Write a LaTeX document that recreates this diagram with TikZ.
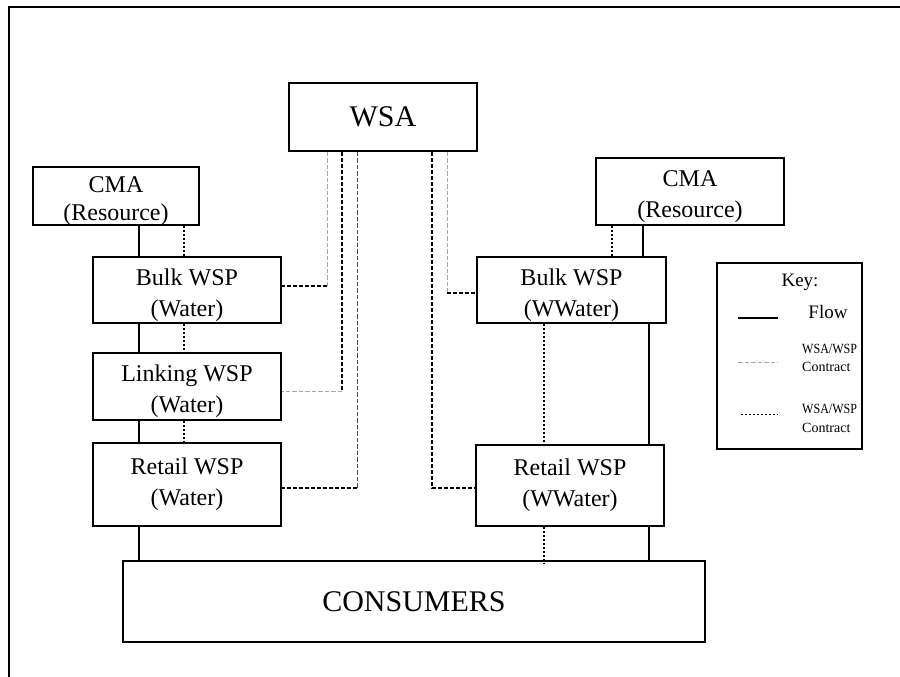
\documentclass[tikz,border=0pt]{standalone}
\usepackage{fontspec}
\setmainfont{Liberation Serif}
\tikzset{
  box/.style={draw, line width=1.3pt, align=center, inner sep=0pt, font=\fontsize{24}{31}\selectfont},
  flow/.style={line width=1.2pt},
  link/.style={line width=1.3pt, dash pattern=on 2pt off 2pt},
  bcon/.style={line width=1.5pt, dash pattern=on 4pt off 2pt},
  gcon/.style={draw=black!35, line width=0.8pt, dash pattern=on 4.5pt off 2pt},
  keytext/.style={anchor=west, align=left, inner sep=0pt, font=\fontsize{14}{18.5}\selectfont},
}
\newcommand{\wsawsp}{\scalebox{0.86}[1]{WSA/WSP}}
\newcommand{\toppad}{\rule{0pt}{27pt}}
\begin{document}
\begin{tikzpicture}[x=1pt, y=-1pt, line join=miter]
	\useasboundingbox (0,0) rectangle (900,677);
	% frame
	\draw[line width=2pt] (9,700) -- (9,7.5) -- (920,7.5);
	
	% boxes
	\node[box, minimum width=188, minimum height=68, font=\fontsize{30}{36}\selectfont] (wsa) at (383,117) {WSA};
	\node[box, minimum width=166, minimum height=58, text depth=0pt, font=\fontsize{24}{28}\selectfont] (cmal) at (116,196) {\rule{0pt}{21pt}CMA\\(Resource)};
	\node[box, minimum width=188, minimum height=67] (cmar) at (690,191.5) {\toppad CMA\\(Resource)};
	\node[box, minimum width=188, minimum height=66] (bulkw) at (187,290) {\toppad Bulk WSP\\(Water)};
	\node[box, minimum width=188, minimum height=67] (linkw) at (187,386.5) {\toppad Linking WSP\\(Water)};
	\node[box, minimum width=188, minimum height=83] (retw) at (187,484.5) {Retail WSP\\(Water)};
	\node[box, minimum width=189, minimum height=66] (bulkww) at (571.5,290) {\toppad Bulk WSP\\(WWater)};
	\node[box, minimum width=188, minimum height=81] (retww) at (570,485.5) {Retail WSP\\(WWater)};
	\node[box, minimum width=582, minimum height=81, font=\fontsize{30}{36}\selectfont] (cons) at (414,601.5) {CONSUMERS};
	
	% key
	\node[draw, line width=1.3pt, minimum width=145, minimum height=186] (key) at (789.5,356) {};
	\node[font=\fontsize{19}{22}\selectfont] (keyt) at (800,282) {Key:};
	\node[font=\fontsize{19}{22}\selectfont] (flowt) at (828,312) {Flow};
	\node[keytext] (gkey) at (802,358) {\wsawsp\\Contract};
	\node[keytext] (bkey) at (802,418.5) {\wsawsp\\Contract};
	\draw[flow] (738,318) -- (778,318);
	\draw[gcon, line width=0.6pt] (738,362) -- (778,362);
	\draw[link, line width=1pt] (741,414) -- (778,414);
	
	% columns
	\coordinate (fl) at (139,0);
	\coordinate (dl) at (184,0);
	\coordinate (cs) at (643,0);
	\coordinate (cd) at (612,0);
	\coordinate (fr) at (649,0);
	\coordinate (dr) at (544,0);
	
	% flows, left
	\draw[flow] (cmal.south -| fl) -- (bulkw.north -| fl);
	\draw[link] (cmal.south -| dl) -- (bulkw.north -| dl);
	\draw[flow] (bulkw.south -| fl) -- (linkw.north -| fl);
	\draw[link] (bulkw.south -| dl) -- (linkw.north -| dl);
	\draw[flow] (linkw.south -| fl) -- (retw.north -| fl);
	\draw[link] (linkw.south -| dl) -- (retw.north -| dl);
	\draw[flow] (retw.south -| fl) -- (cons.north -| fl);
	
	% flows, right
	\draw[flow] (cmar.south -| cs) -- (bulkww.north -| cs);
	\draw[link] (cmar.south -| cd) -- (bulkww.north -| cd);
	\draw[flow] (bulkww.south -| fr) -- (retww.north -| fr);
	\draw[link] (bulkww.south -| dr) -- (retww.north -| dr);
	\draw[flow] (retww.south -| fr) -- (cons.north -| fr);
	\draw[link] (retww.south -| dr) -- ([yshift=-3pt]cons.north -| dr);
	
	% contracts from WSA
	\coordinate (g1) at (327,286);
	\coordinate (b1) at (342,391);
	\coordinate (g2) at (357,488);
	\coordinate (b2) at (432,488);
	\coordinate (g3) at (447,293);
	\draw[gcon] (wsa.south -| g1) -- (g1);
	\draw[bcon] (g1) -- (bulkw.east |- g1);
	\draw[bcon] (wsa.south -| b1) -- (b1);
	\draw[gcon] (b1) -- (linkw.east |- b1);
	\draw[gcon, draw=black!70, line width=0.6pt] (wsa.south -| g2) -- (g2);
	\draw[bcon] (g2) -- (retw.east |- g2);
	\draw[bcon] (wsa.south -| b2) -- (b2) -- (retww.west |- b2);
	\draw[gcon] (wsa.south -| g3) -- (g3);
	\draw[bcon] (g3) -- (bulkww.west |- g3);
\end{tikzpicture}
\end{document}
